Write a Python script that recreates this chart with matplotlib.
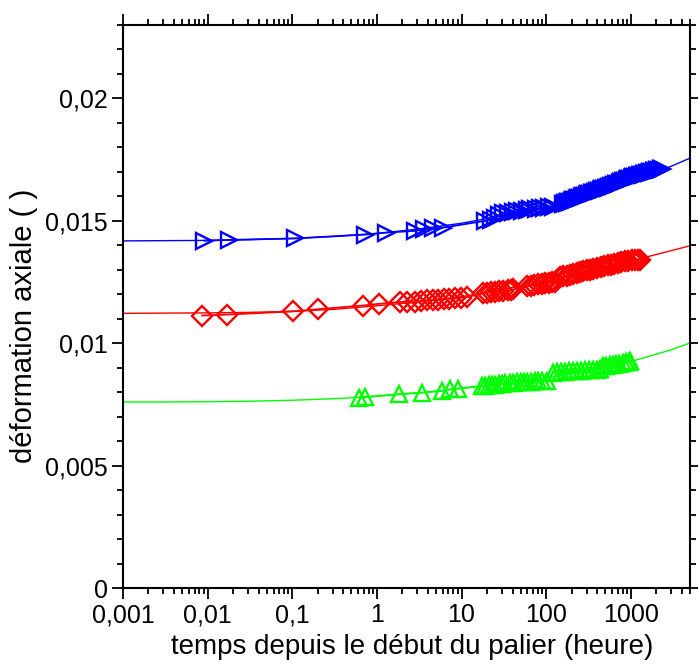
import matplotlib
matplotlib.use("Agg")
import matplotlib.pyplot as plt
import matplotlib.ticker as mticker

# ---------------- data ----------------
fit_t = [0.001, 0.003, 0.01, 0.03, 0.1, 0.3, 1, 3, 10, 30, 100, 300, 1000, 3000, 5000]
fit_blue = [0.01418, 0.01419, 0.01420, 0.01423, 0.01428, 0.01436, 0.01448, 0.01466,
            0.01490, 0.01521, 0.01555, 0.01603, 0.01660, 0.01723, 0.01756]
fit_red = [0.01122, 0.01123, 0.01124, 0.01126, 0.01130, 0.01138, 0.01153, 0.01168,
           0.01190, 0.01220, 0.01253, 0.01292, 0.01336, 0.01378, 0.01398]
fit_green = [0.00760, 0.00760, 0.00761, 0.00763, 0.00767, 0.00773, 0.00783, 0.00797,
             0.00815, 0.00835, 0.00858, 0.00887, 0.00925, 0.00973, 0.01001]

blue_t = [0.0091, 0.018, 0.108, 0.73, 1.28, 2.83, 3.61, 4.65, 6.0,
          19, 22, 25, 28, 31, 35, 40, 45, 52, 60, 65, 75, 85, 95, 108, 120,
          160, 168, 175, 183, 190, 200, 210, 220, 230, 240, 250, 262, 275, 288, 300, 315,
          330, 345, 360, 380, 400, 420, 440, 460, 480, 505, 530, 555,
          580, 610, 640, 670, 700, 735, 770, 810, 850, 890, 930, 975, 1020, 1070, 1120,
          1175, 1230, 1290, 1350, 1415, 1480, 1550, 1620, 1700,
          1780, 1860, 1950, 2050, 2150, 2250, 2350]
blue_y = [0.01419, 0.01422, 0.01428, 0.01444, 0.01452, 0.01459, 0.01465, 0.01469, 0.01472,
          0.01500, 0.01504, 0.01510, 0.01522, 0.01530, 0.01532, 0.01536, 0.01540, 0.01542,
          0.01544, 0.01547, 0.01549, 0.01551, 0.01553, 0.01555, 0.01557,
          0.01570, 0.01572, 0.01574, 0.01576, 0.01578, 0.01581, 0.01584, 0.01587, 0.01590,
          0.01592, 0.01594, 0.01597, 0.01600, 0.01603, 0.01605, 0.01608, 0.01610, 0.01612,
          0.01614, 0.01617, 0.01620, 0.01623, 0.01626, 0.01628, 0.01630, 0.01633, 0.01636,
          0.01639, 0.01641, 0.01644, 0.01647, 0.01650, 0.01652, 0.01655, 0.01658, 0.01661,
          0.01664, 0.01667, 0.01669, 0.01672, 0.01674, 0.01677, 0.01679, 0.01682, 0.01684,
          0.01687, 0.01689, 0.01691, 0.01693, 0.01695, 0.01697, 0.01699, 0.01701, 0.01703,
          0.01705, 0.01707, 0.01709, 0.01711, 0.01713]

red_t = [0.0086, 0.017, 0.101, 0.204, 0.68, 1.07, 1.85,
         2.26, 2.8, 3.3, 3.9, 4.6, 5.3, 6.2, 7.2, 8.4, 9.8, 11.5,
         18, 20, 22, 25, 28, 31, 35, 38, 41,
         60, 66, 72, 80, 88, 97, 107, 117, 128,
         146, 160, 175, 190, 210, 230, 250, 275, 305,
         330, 360, 400, 440, 480, 530, 580, 640, 700, 770, 850, 930, 1020, 1120, 1200, 1290]
red_y = [0.01113, 0.01117, 0.01130, 0.01139, 0.01154, 0.01161, 0.01168,
         0.01170, 0.01168, 0.01173, 0.01175, 0.01176, 0.01178, 0.01180, 0.01182, 0.01184,
         0.01186, 0.01188,
         0.01204, 0.01206, 0.01208, 0.01210, 0.01212, 0.01214, 0.01216, 0.01218, 0.01220,
         0.01232, 0.01235, 0.01237, 0.01240, 0.01242, 0.01245, 0.01247, 0.01250, 0.01252,
         0.01270, 0.01273, 0.01276, 0.01279, 0.01283, 0.01286, 0.01289, 0.01293, 0.01298,
         0.01300, 0.01303, 0.01307, 0.01311, 0.01314, 0.01318, 0.01321, 0.01325, 0.01328,
         0.01331, 0.01334, 0.01336, 0.01338, 0.01340, 0.01341, 0.01342]

green_t = [0.62, 0.725, 1.8, 3.4, 5.85, 7.3, 9.2,
           17.4, 19, 21, 23, 25, 27.5, 30, 33, 37, 41,
           45, 50, 55, 60, 66, 73, 80, 90, 102,
           121, 135, 150, 165, 185, 205, 230, 255, 285, 320, 360, 400, 435,
           470, 510, 560, 610, 670, 730, 800, 880, 960, 990]
green_y = [0.00778, 0.00780, 0.00792, 0.00798, 0.00805, 0.00812, 0.00815,
           0.00825, 0.00826, 0.00828, 0.00830, 0.00831, 0.00833, 0.00835, 0.00836, 0.00838,
           0.00839,
           0.00840, 0.00841, 0.00842, 0.00843, 0.00843, 0.00844, 0.00845, 0.00846, 0.00846,
           0.00880, 0.00881, 0.00882, 0.00884, 0.00885, 0.00886, 0.00887, 0.00888, 0.00889,
           0.00890, 0.00891, 0.00892, 0.00893,
           0.00905, 0.00908, 0.00910, 0.00912, 0.00914, 0.00916, 0.00919, 0.00922, 0.00925,
           0.00927]

x_ticks = [0.001, 0.01, 0.1, 1, 10, 100, 1000]
x_tick_labels = ["0,001", "0,01", "0,1", "1", "10", "100", "1000"]
y_ticks = [0, 0.005, 0.01, 0.015, 0.02]
y_tick_labels = ["0", "0,005", "0,01", "0,015", "0,02"]

# ---------------- figure ----------------
plt.rcParams["font.family"] = ["Liberation Sans", "DejaVu Sans"]

fig = plt.figure(figsize=(6.98, 6.69), dpi=100)
ax = fig.add_axes([123 / 698, 1 - 588 / 669, (690 - 123) / 698, (588 - 25) / 669])

series = [
    (blue_t, blue_y, fit_blue, (0, 0, 1), ">", 12),
    (red_t, red_y, fit_red, (1, 0, 0), "D", 10),
    (green_t, green_y, fit_green, (0, 1, 0), "^", 12),
]
for t, y, fit, col, mk, ms in series:
    ax.plot(fit_t, fit, color=col, lw=1.0, zorder=2)
    ax.plot(t, y, color=col, lw=1.3, zorder=3)
    ax.plot(t, y, linestyle="none", marker=mk, ms=ms, mfc="none", mec=col, mew=1.7, zorder=4)

ax.set_xscale("log")
ax.set_xlim(0.001, 5000)
ax.set_ylim(0, 0.023)

ax.xaxis.set_major_locator(mticker.FixedLocator(x_ticks))
ax.xaxis.set_major_formatter(mticker.FixedFormatter(x_tick_labels))
ax.xaxis.set_minor_locator(mticker.LogLocator(base=10, subs=range(2, 10), numticks=20))
ax.xaxis.set_minor_formatter(mticker.NullFormatter())
ax.yaxis.set_major_locator(mticker.FixedLocator(y_ticks))
ax.yaxis.set_major_formatter(mticker.FixedFormatter(y_tick_labels))
ax.yaxis.set_minor_locator(mticker.MultipleLocator(0.001))

for s in ax.spines.values():
    s.set_linewidth(1.5)
ax.tick_params(which="both", direction="out", top=True, right=True, width=1.3, labelsize=18)
ax.tick_params(which="major", length=8, pad=3)
ax.tick_params(which="minor", length=4)

ax.set_xlabel("temps depuis le début du palier (heure)", fontsize=20, labelpad=5)
ax.set_ylabel("déformation axiale ( )", fontsize=21, labelpad=5)
ax.xaxis.label.set_x(0.51)
ax.yaxis.label.set_y(0.465)

fig.savefig("out.png", dpi=100)
